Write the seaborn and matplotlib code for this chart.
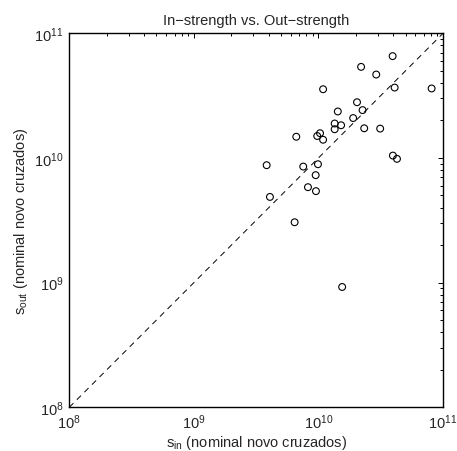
import numpy as np
import pandas as pd
import matplotlib
matplotlib.use('Agg')
import matplotlib.pyplot as plt
import matplotlib.ticker as mticker
import seaborn as sns

# strengths (nominal novo cruzados)
s_in = [3.94e10, 2.20e10, 2.91e10, 4.09e10, 8.1e10, 1.09e10, 2.04e10, 2.26e10,
        1.43e10, 1.90e10, 1.35e10, 1.52e10, 1.35e10, 2.33e10, 3.13e10, 6.64e9,
        1.03e10, 9.78e9, 1.09e10, 3.96e10, 4.27e10, 3.84e9, 7.55e9, 9.91e9,
        9.50e9, 4.08e9, 8.24e9, 9.55e9, 6.44e9, 1.55e10]
s_out = [6.56e10, 5.38e10, 4.67e10, 3.67e10, 3.61e10, 3.56e10, 2.80e10, 2.42e10,
         2.36e10, 2.09e10, 1.89e10, 1.83e10, 1.70e10, 1.73e10, 1.72e10, 1.48e10,
         1.58e10, 1.50e10, 1.40e10, 1.045e10, 9.84e9, 8.75e9, 8.53e9, 8.91e9,
         7.28e9, 4.87e9, 5.83e9, 5.42e9, 3.05e9, 9.23e8]
diag = [1e8, 1e11]

sns.set_style('white')
plt.rcParams['font.family'] = ['Liberation Sans', 'DejaVu Sans']
plt.rcParams['mathtext.fontset'] = 'custom'
plt.rcParams['mathtext.rm'] = 'Liberation Sans'
plt.rcParams['mathtext.it'] = 'Liberation Sans:italic'
plt.rcParams['mathtext.default'] = 'regular'
plt.rcParams['font.size'] = 10.5

df = pd.DataFrame({'s_in': s_in, 's_out': s_out})

fig = plt.figure(figsize=(4.57, 4.52), dpi=100)
ax = fig.add_axes([0.1516, 0.0967, 0.8178, 0.8274])

sns.scatterplot(data=df, x='s_in', y='s_out', ax=ax, marker='o', s=24,
                facecolor='none', edgecolor='black', linewidth=0.8)
ax.plot(diag, diag, color='black', linewidth=0.7, linestyle=(0, (6, 5)))

ax.set_xscale('log')
ax.set_yscale('log')
ax.set_xlim(1e8, 1e11)
ax.set_ylim(1e8, 1e11)
for a in (ax.xaxis, ax.yaxis):
    a.set_major_locator(mticker.LogLocator(base=10, numticks=10))
    a.set_minor_locator(mticker.LogLocator(base=10, subs=np.arange(2, 10), numticks=20))
    a.set_minor_formatter(mticker.NullFormatter())

ax.tick_params(which='both', direction='in', top=True, right=True,
               labelsize=10.5, color='black', width=0.7)
ax.tick_params(which='major', length=3.5, pad=4)
ax.tick_params(which='minor', length=2)
for sp in ax.spines.values():
    sp.set_color('black')
    sp.set_linewidth(1.0)

ax.set_title('In\u2212strength vs. Out\u2212strength', fontsize=10.5, pad=7)
ax.set_xlabel(r'$s_{in}$ (nominal novo cruzados)', fontsize=10.5, labelpad=1)
ax.set_ylabel(r'$s_{out}$ (nominal novo cruzados)', fontsize=10.5, labelpad=3)

fig.savefig('out.png', dpi=100)
